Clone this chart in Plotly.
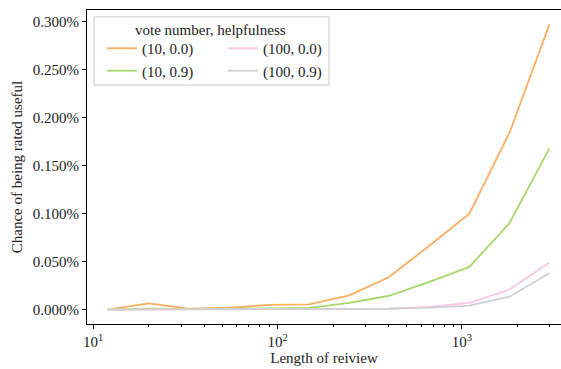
import plotly.graph_objects as go

review_length = [12, 20, 33, 55, 90, 148, 245, 403, 665, 1097, 1808, 2981]
s_10_00 = [0.0000, 0.0065, 0.0010, 0.0020, 0.0050, 0.0055, 0.0150, 0.0340, 0.0665, 0.1000, 0.1840, 0.2970]
s_10_09 = [0.0000, 0.0010, 0.0005, 0.0008, 0.0015, 0.0018, 0.0070, 0.0145, 0.0290, 0.0445, 0.0900, 0.1680]
s_100_00 = [0.0000, 0.0002, 0.0002, 0.0002, 0.0002, 0.0003, 0.0005, 0.0012, 0.0030, 0.0070, 0.0210, 0.0490]
s_100_09 = [0.0000, 0.0001, 0.0001, 0.0001, 0.0001, 0.0002, 0.0004, 0.0010, 0.0022, 0.0042, 0.0135, 0.0380]
series_names = ["(10, 0.0)", "(10, 0.9)", "(100, 0.0)", "(100, 0.9)"]
series_colors = ["#fdae61", "#a6d96a", "#f9c6e2", "#d0d0d0"]
y_ticks = [0.0, 0.0005, 0.0010, 0.0015, 0.0020, 0.0025, 0.0030]
x_ticks = [10, 100, 1000]
x_tick_text = ["10<sup>1</sup>", "10<sup>2</sup>", "10<sup>3</sup>"]
minor_x = [m * d for d in (10, 100, 1000) for m in range(2, 10)]

FONT = "Liberation Serif"
FS = 15
series = [s_10_00, s_10_09, s_100_00, s_100_09]
legends = ["legend", "legend", "legend2", "legend2"]

fig = go.Figure()
for name, vals, col, lg in zip(series_names, series, series_colors, legends):
    fig.add_trace(go.Scatter(
        x=review_length, y=[v / 100 for v in vals], mode="lines", name=name,
        line=dict(color=col, width=1.8), legend=lg,
    ))

leg_common = dict(xanchor="left", yanchor="top", bgcolor="rgba(0,0,0,0)", borderwidth=0,
                  font=dict(family=FONT, size=FS, color="#222"), tracegroupgap=0, itemwidth=30)

fig.update_layout(
    width=561, height=369,
    margin=dict(l=87, r=0, t=10, b=45, autoexpand=False),
    plot_bgcolor="white", paper_bgcolor="white",
    font=dict(family=FONT, size=FS, color="#222"),
    showlegend=True,
    legend=dict(x=0.0317, y=0.93, **leg_common),
    legend2=dict(x=0.287, y=0.93, **leg_common),
    shapes=[dict(type="rect", xref="paper", yref="paper",
                 x0=0.0148, x1=0.5105, y0=0.761, y1=0.978,
                 line=dict(color="#cccccc", width=1), fillcolor="rgba(255,255,255,0.8)",
                 layer="below")],
    annotations=[dict(text="vote number, helpfulness", xref="paper", yref="paper",
                      x=0.2616, y=0.936, xanchor="center", yanchor="middle",
                      showarrow=False, font=dict(family=FONT, size=FS, color="#222"))],
)

fig.update_xaxes(
    type="log", range=[0.967, 3.537], automargin=False,
    tickvals=x_ticks, ticktext=x_tick_text,
    ticks="outside", ticklen=4, tickwidth=1, tickcolor="black",
    minor=dict(tickvals=minor_x, ticks="outside", ticklen=2, tickwidth=0.8, tickcolor="black", showgrid=False),
    showline=True, linecolor="black", linewidth=1, mirror=True,
    showgrid=False, zeroline=False,
    title=dict(text="Length of reiview", font=dict(family=FONT, size=FS, color="#222"), standoff=3),
    tickfont=dict(family=FONT, size=FS, color="#222"),
)
fig.update_yaxes(
    range=[-0.000149, 0.00312], automargin=False,
    tickvals=y_ticks, tickformat=".3%",
    ticks="outside", ticklen=4, tickwidth=1, tickcolor="black",
    showline=True, linecolor="black", linewidth=1, mirror=False,
    showgrid=False, zeroline=False,
    title=dict(text="Chance of being rated useful", font=dict(family=FONT, size=FS, color="#222"), standoff=6),
    tickfont=dict(family=FONT, size=FS, color="#222"),
)

fig.write_html("out.html", config={"displayModeBar": False},
               post_script="document.body.style.margin='0';document.body.style.overflow='hidden';")
